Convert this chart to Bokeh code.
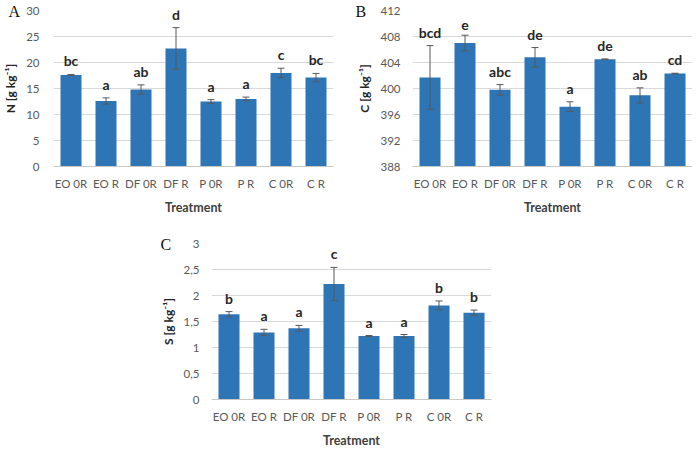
from bokeh.plotting import figure
from bokeh.models import ColumnDataSource, Whisker, FixedTicker, Spacer, TeeHead, Range1d
from bokeh.layouts import column, row
from bokeh.embed import file_html
from bokeh.resources import INLINE
from bokeh.core.properties import value

treatments = ["EO 0R", "EO R", "DF 0R", "DF R", "P 0R", "P R", "C 0R", "C R"]

n_mean = [17.6, 12.6, 14.8, 22.7, 12.5, 13.0, 18.0, 17.1]
n_err = [0.1, 0.6, 0.9, 4.0, 0.35, 0.35, 0.9, 0.8]
n_letters = ["bc", "a", "ab", "d", "a", "a", "c", "bc"]
n_ticks = [0, 5, 10, 15, 20, 25, 30]
n_tick_labels = ["0", "5", "10", "15", "20", "25", "30"]

c_mean = [401.7, 407.0, 399.8, 404.8, 397.2, 404.5, 398.95, 402.3]
c_err = [4.9, 1.2, 0.8, 1.5, 0.75, 0.05, 1.15, 0.05]
c_letters = ["bcd", "e", "abc", "de", "a", "de", "ab", "cd"]
c_ticks = [388, 392, 396, 400, 404, 408, 412]
c_tick_labels = ["388", "392", "396", "400", "404", "408", "412"]

s_mean = [1.64, 1.29, 1.37, 2.22, 1.22, 1.22, 1.81, 1.67]
s_err = [0.05, 0.06, 0.055, 0.32, 0.01, 0.03, 0.085, 0.05]
s_letters = ["b", "a", "a", "c", "a", "a", "b", "b"]
s_ticks = [0, 0.5, 1, 1.5, 2, 2.5, 3]
s_tick_labels = ["0", "0,5", "1", "1,5", "2", "2,5", "3"]

BAR = "#2E75B6"
FONT = "Lato"


def make_panel(means, errs, letters, ticks, tick_labels, ylabel, panel_letter,
               left, right, top, bottom, letter_x, ystandoff=12):
    ymin, ymax = ticks[0], ticks[-1]
    src = ColumnDataSource(dict(
        x=treatments, top=means,
        upper=[m + e for m, e in zip(means, errs)],
        lower=[m - e for m, e in zip(means, errs)],
        letters=letters,
    ))
    p = figure(x_range=treatments, y_range=Range1d(ymin, ymax),
               frame_width=280, frame_height=156,
               min_border_left=left, min_border_right=right,
               min_border_top=top, min_border_bottom=bottom,
               output_backend="svg", toolbar_location=None)
    p.vbar(x="x", top="top", bottom=ymin, width=0.6, source=src,
           fill_color=BAR, line_color=None)
    w = Whisker(base="x", upper="upper", lower="lower", source=src,
                line_color="#595959", line_width=1, level="overlay",
                upper_head=TeeHead(size=7, line_color="#595959", line_width=1),
                lower_head=TeeHead(size=7, line_color="#595959", line_width=1))
    p.add_layout(w)
    p.text(x="x", y="upper", text="letters", source=src,
           text_align="center", text_baseline="bottom", y_offset=-5,
           text_font=value(FONT), text_font_style="bold",
           text_font_size="14px", text_color="#262626")

    # panel letter drawn as the plot title, pulled down beside the top tick
    p.title.text = panel_letter
    p.title.text_font = "Liberation Serif"
    p.title.text_font_style = "normal"
    p.title.text_font_size = "16px"
    p.title.text_color = "#111111"
    p.title.align = "left"
    p.title.vertical_align = "bottom"
    p.title.offset = letter_x
    p.title.standoff = -18

    p.outline_line_color = None
    p.background_fill_color = "white"
    p.border_fill_color = "white"
    p.xgrid.grid_line_color = None
    p.ygrid.grid_line_color = "#D9D9D9"
    p.ygrid.grid_line_width = 1

    p.yaxis.ticker = FixedTicker(ticks=ticks)
    p.yaxis.major_label_overrides = {t: l for t, l in zip(ticks, tick_labels)}
    p.yaxis.axis_line_color = None
    p.yaxis.major_tick_line_color = None
    p.yaxis.minor_tick_line_color = None
    p.yaxis.major_tick_out = 0
    p.yaxis.major_tick_in = 0
    p.yaxis.major_label_standoff = ystandoff
    p.yaxis.major_label_text_font = FONT
    p.yaxis.major_label_text_font_size = "11.5px"
    p.yaxis.major_label_text_color = "#595959"
    p.yaxis.axis_label = ylabel
    p.yaxis.axis_label_text_font = FONT
    p.yaxis.axis_label_text_font_style = "bold"
    p.yaxis.axis_label_text_font_size = "12px"
    p.yaxis.axis_label_text_color = "#262626"
    p.yaxis.axis_label_standoff = 5

    p.xaxis.axis_line_color = "#C8C8C8"
    p.xaxis.major_tick_line_color = None
    p.xaxis.minor_tick_line_color = None
    p.xaxis.major_tick_out = 0
    p.xaxis.major_tick_in = 0
    p.xaxis.major_label_standoff = 10
    p.xaxis.major_label_text_font = FONT
    p.xaxis.major_label_text_font_size = "11.5px"
    p.xaxis.major_label_text_color = "#595959"
    p.xaxis.axis_label = "Treatment"
    p.xaxis.axis_label_text_font = FONT
    p.xaxis.axis_label_text_font_style = "bold"
    p.xaxis.axis_label_text_font_size = "12.5px"
    p.xaxis.axis_label_text_color = "#404040"
    p.xaxis.axis_label_standoff = 7
    return p


pA = make_panel(n_mean, n_err, n_letters, n_ticks, n_tick_labels,
                "N [g kg\u207b\u00b9]", "A", 45, 17, 10, 47, -45, ystandoff=14)
pB = make_panel(c_mean, c_err, c_letters, c_ticks, c_tick_labels,
                "C [g kg\u207b\u00b9]", "B", 62, 0, 10, 47, -57)
pC = make_panel(s_mean, s_err, s_letters, s_ticks, s_tick_labels,
                "S [g kg\u207b\u00b9]", "C", 55, 10, 10, 46, -51)

layout = column(row(pA, pB), Spacer(height=16), row(Spacer(width=156), pC))

open("out.html", "w").write(file_html(layout, INLINE))
